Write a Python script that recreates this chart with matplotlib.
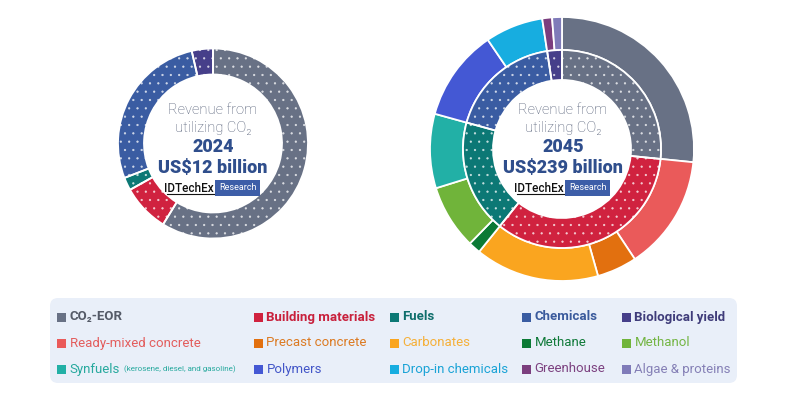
import matplotlib.pyplot as plt
from matplotlib.patches import Rectangle, FancyBboxPatch

plt.rcParams['font.family'] = ['Roboto', 'DejaVu Sans']
plt.rcParams['hatch.linewidth'] = 0.4

# main sectors (inner ring / 2024 ring)
sectors = ['CO₂-EOR', 'Building materials', 'Fuels', 'Chemicals', 'Biological yield']
sector_colors = ['#687185', '#d0223f', '#0c7875', '#3a5ca2', '#463f8a']
share_2024 = [58.8, 8.1, 2.2, 27.3, 3.6]
share_2045 = [26.6, 34.2, 18.5, 18.3, 2.4]

# sub-segments for 2045 outer ring
subs = ['CO₂-EOR', 'Ready-mixed concrete', 'Precast concrete', 'Carbonates',
        'Methane', 'Methanol', 'Synfuels', 'Polymers', 'Drop-in chemicals',
        'Greenhouse', 'Algae & proteins']
sub_colors = ['#687185', '#ea5a5a', '#e2700f', '#faa51f', '#0b7a35', '#70b43a',
              '#22b0a6', '#4458d4', '#17ade0', '#7b3e7e', '#7f7bb9']
sub_2045 = [26.6, 14.1, 4.9, 15.2, 1.5, 7.9, 9.1, 11.2, 7.1, 1.2, 1.2]

totals = ['US$12 billion', 'US$239 billion']
years = ['2024', '2045']

# legend layout (row-major)
legend_labels = [
    'CO₂-EOR', 'Building materials', 'Fuels', 'Chemicals', 'Biological yield',
    'Ready-mixed concrete', 'Precast concrete', 'Carbonates', 'Methane', 'Methanol',
    'Synfuels', 'Polymers', 'Drop-in chemicals', 'Greenhouse', 'Algae & proteins']
legend_colors = [
    '#687185', '#d0223f', '#0c7875', '#3a5ca2', '#463f8a',
    '#ea5a5a', '#e2700f', '#faa51f', '#0b7a35', '#70b43a',
    '#22b0a6', '#4458d4', '#17ade0', '#7b3e7e', '#7f7bb9']
legend_text_colors = [
    '#555b68', '#c8203c', '#0f6e6c', '#3a5a9c', '#3f3c7a',
    '#e35d5d', '#dc7a22', '#f5b03a', '#117a3a', '#74b544',
    '#27a99e', '#4356c8', '#1aa3d6', '#7c4180', '#8580b6']

H = 399
def Y(y):
    return H - y

fig = plt.figure(figsize=(7.87, 3.99), dpi=100)
ax = fig.add_axes([0, 0, 1, 1])

dots = dict(edgecolor=(1, 1, 1, 0.7), linewidth=0, hatch='..')
edges = dict(facecolor='none', edgecolor='white', linewidth=1.3)

# 2024 donut
c1 = (213, Y(143.5))
ax.pie(share_2024, colors=sector_colors, radius=95, center=c1,
       startangle=90, counterclock=False, wedgeprops=dict(width=26, **dots))
ax.pie(share_2024, radius=95, center=c1, startangle=90, counterclock=False,
       wedgeprops=dict(width=26, **edges))

# 2045 donut
c2 = (562, Y(149))
ax.pie(sub_2045, colors=sub_colors, radius=132, center=c2, startangle=90,
       counterclock=False, wedgeprops=dict(width=33, edgecolor='white', linewidth=1.3))
ax.pie(share_2045, colors=sector_colors, radius=99, center=c2, startangle=90,
       counterclock=False, wedgeprops=dict(width=30, **dots))
ax.pie(share_2045, radius=99, center=c2, startangle=90, counterclock=False,
       wedgeprops=dict(width=30, **edges))

# centre texts
for cx, yr, tot in [(213, years[0], totals[0]), (563, years[1], totals[1])]:
    ax.text(cx, Y(110), 'Revenue from', ha='center', va='center', fontsize=10.5,
            fontweight='light', color='#4f5a73')
    ax.text(cx, Y(128), 'utilizing CO₂', ha='center', va='center', fontsize=10.5,
            fontweight='light', color='#4f5a73')
    ax.text(cx, Y(147.5), yr, ha='center', va='center', fontsize=13,
            fontweight='black', color='#2f4e8c')
    ax.text(cx, Y(168), tot, ha='center', va='center', fontsize=13,
            fontweight='black', color='#2f4e8c')
    ax.text(cx + 1, Y(188), 'IDTechEx', ha='right', va='center', fontsize=8.5,
            fontweight='medium', color='#111111')
    ax.text(cx + 6, Y(188), 'Research', ha='left', va='center', fontsize=6.5,
            color='white', bbox=dict(boxstyle='square,pad=0.4', fc='#3d5ea8', ec='none'))
    ax.plot([cx - 46, cx + 1], [Y(194), Y(194)], color='#111111', lw=0.8)

# legend panel
ax.add_patch(FancyBboxPatch((50, Y(383)), 687, 85,
                            boxstyle='round,pad=0,rounding_size=8',
                            fc='#e9eff9', ec='none'))
col_x = [57, 254, 390, 522, 622]
row_y = [317, 343, 369]
for i, lab in enumerate(legend_labels):
    r, c = divmod(i, 5)
    x, y = col_x[c], row_y[r]
    ax.add_patch(Rectangle((x, Y(y) - 4.5), 9, 9, fc=legend_colors[i], ec='none'))
    ax.text(x + 12.5, Y(y), lab, ha='left', va='center', fontsize=9.5,
            fontweight='bold' if r == 0 else 'normal', color=legend_text_colors[i])
ax.text(124, Y(369.5), '(kerosene, diesel, and gasoline)', ha='left', va='center',
        fontsize=5.8, color='#27a99e')

ax.set_xlim(0, 787)
ax.set_ylim(0, H)
ax.set_aspect('equal')
ax.axis('off')
fig.savefig('out.png', dpi=100)
